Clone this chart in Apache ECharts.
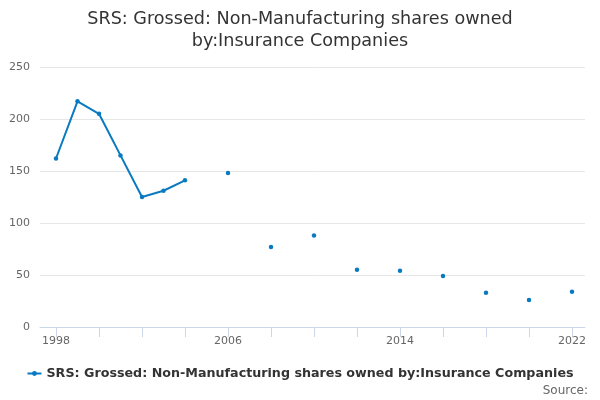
<!DOCTYPE html>
<html>
<head>
<meta charset="utf-8">
<script src="https://cdn.jsdelivr.net/npm/echarts@6/dist/echarts.min.js"></script>
<style>html,body{margin:0;padding:0;background:#fff}#c{width:600px;height:400px}</style>
</head>
<body>
<div id="c"></div>
<script>
const years = [1998,1999,2000,2001,2002,2003,2004,2005,2006,2007,2008,2009,2010,2011,2012,2013,2014,2015,2016,2017,2018,2019,2020,2021,2022];
const values = [162,217,205,165,125,131,141,null,148,null,77,null,88,null,55,null,54,null,49,null,33,null,26,null,34];
const tickYears = [1998,2000,2002,2004,2006,2008,2010,2012,2014,2016,2018,2020,2022];
const labelYears = [1998,2006,2014,2022];
const seriesName = 'SRS: Grossed: Non-Manufacturing shares owned by:Insurance Companies';

const chart = echarts.init(document.getElementById('c'));
chart.setOption({
  animation: false,
  title: {
    text: 'SRS: Grossed: Non-Manufacturing shares owned\nby:Insurance Companies',
    left: 'center', top: 3,
    textStyle: {fontFamily: 'DejaVu Sans', fontSize: 17.6, fontWeight: 'normal', color: '#333', lineHeight: 22}
  },
  grid: {left: 40, right: 15, top: 67, bottom: 73},
  xAxis: {
    type: 'value', min: 1997.256, max: 2022.605,
    axisLine: {show: true, lineStyle: {color: '#ccd6eb'}},
    axisTick: {show: true, length: 10, customValues: tickYears, lineStyle: {color: '#ccd6eb'}},
    axisLabel: {customValues: labelYears, formatter: v => String(v), color: '#666', fontFamily: 'DejaVu Sans', fontSize: 11, margin: 9},
    splitLine: {show: false}
  },
  yAxis: {
    type: 'value', min: 0, max: 250, interval: 50,
    axisLine: {show: false}, axisTick: {show: false},
    axisLabel: {color: '#666', fontFamily: 'DejaVu Sans', fontSize: 11, margin: 10},
    splitLine: {lineStyle: {color: '#e6e6e6'}}
  },
  legend: {
    bottom: 15, left: 'center',
    itemWidth: 14, itemHeight: 6, itemGap: 5,
    textStyle: {fontFamily: 'DejaVu Sans', fontSize: 12.7, fontWeight: 'bold', color: '#333'},
    data: [seriesName]
  },
  graphic: [{
    type: 'text', right: 12, bottom: 3,
    style: {text: 'Source:', fill: '#666', fontFamily: 'DejaVu Sans', fontSize: 12}
  }],
  series: [{
    name: seriesName, type: 'line',
    data: years.map((y, i) => [y, values[i]]),
    connectNulls: false,
    symbol: 'circle', symbolSize: 4.5, showSymbol: true,
    lineStyle: {width: 2, color: '#0a7ac0'},
    itemStyle: {color: '#0a7ac0'}
  }]
});
</script>
</body>
</html>
